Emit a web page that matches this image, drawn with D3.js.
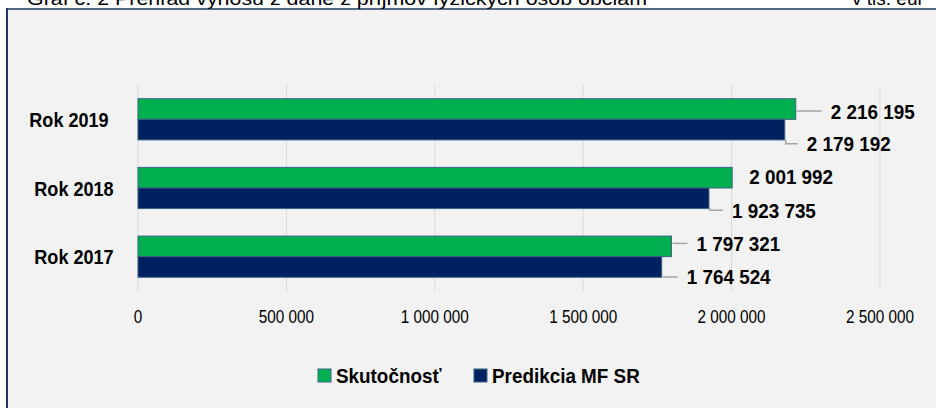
<!DOCTYPE html>
<meta charset="utf-8">
<style type="text/css">
    body { margin: 0; background: #fff; }
    svg { display: block; font-family: "Liberation Sans", Arial, sans-serif; }
    .grid line { stroke: #d9d9d9; stroke-width: 1; }
    .bar { stroke: #3b6482; stroke-width: 1; }
    .leader { fill: none; stroke: #a6a6a6; stroke-width: 1.5; }
    .val { font-weight: bold; font-size: 20.5px; fill: #000; }
    .cat { font-weight: bold; font-size: 21px; fill: #000; }
    .tick { font-size: 18px; fill: #000; }
    .legend text { font-weight: bold; font-size: 20.5px; fill: #000; }
</style>
<body>
</body>
<script src="https://cdn.jsdelivr.net/npm/d3@7"></script>
<script>

    // data
    var categories = ["Rok 2019", "Rok 2018", "Rok 2017"];
    var skutocnost = [2216195, 2001992, 1797321];
    var predikcia = [2179192, 1923735, 1764524];
    var tickValues = [0, 500000, 1000000, 1500000, 2000000, 2500000];
    var seriesNames = ["Skutočnosť", "Predikcia MF SR"];
    var seriesColors = ["#00b050", "#002060"];

    // where Excel had dragged the data labels (text start past bar end, shift from bar middle)
    var labelNudge = [
        [{dx: 35, dy: 2, leader: true}, {dx: 17, dy: -1, leader: false}, {dx: 25, dy: -3, leader: true}],
        [{dx: 22, dy: 14, leader: true}, {dx: 23, dy: 12, leader: true}, {dx: 25, dy: 10, leader: true}]
    ];

    var width = 936, height = 408;

    var svg = d3.select("body").append("svg")
        .attr("width", width)
        .attr("height", height);

    // the original text looks tall and narrow, so squeeze it a bit sideways
    function squeeze(sel, k) {
        sel.each(function() {
            var w = this.getComputedTextLength();
            d3.select(this).attr("textLength", w * k).attr("lengthAdjust", "spacingAndGlyphs");
        });
    }

    // panel background + the two visible border edges
    svg.append("rect")
        .attr("x", 7).attr("y", 9)
        .attr("width", width - 7).attr("height", height - 9)
        .attr("fill", "#f2f2f2");
    svg.append("line")
        .attr("x1", 7).attr("x2", 7).attr("y1", 8).attr("y2", height)
        .attr("stroke", "#1f3864").attr("stroke-width", 2);
    svg.append("line")
        .attr("x1", 6).attr("x2", width).attr("y1", 9).attr("y2", 9)
        .attr("stroke", "#1f3864").attr("stroke-width", 1.5);

    // title, cut off at the top of the picture as in the source
    svg.append("text")
        .attr("x", 27).attr("y", 5)
        .attr("font-size", 19)
        .attr("textLength", 620)
        .attr("lengthAdjust", "spacingAndGlyphs")
        .text("Graf č. 2 Prehľad výnosu z dane z príjmov fyzických osôb obciam");
    svg.append("text")
        .attr("x", 852).attr("y", 5)
        .attr("font-size", 19)
        .text("v tis. eur");

    var x = d3.scaleLinear()
        .domain([0, 2500000])
        .range([138, 880]);

    var y = d3.scaleBand()
        .domain(categories)
        .range([85, 291])
        .paddingInner(0.4)
        .paddingOuter(0.2);

    var ySub = d3.scaleBand()
        .domain([0, 1])
        .range([0, y.bandwidth()]);

    var fmt = function(v) { return d3.format(",")(v).replace(/,/g, " "); };

    // gridlines
    svg.append("g").attr("class", "grid")
        .selectAll("line")
        .data(tickValues)
        .enter().append("line")
        .attr("x1", function(d) { return x(d); })
        .attr("x2", function(d) { return x(d); })
        .attr("y1", 85).attr("y2", 291);

    // tick labels
    svg.append("g")
        .selectAll("text")
        .data(tickValues)
        .enter().append("text")
        .attr("class", "tick")
        .attr("x", function(d) { return x(d); })
        .attr("y", 323)
        .attr("text-anchor", "middle")
        .text(fmt)
        .call(squeeze, 0.85);

    // category labels
    svg.append("g")
        .selectAll("text")
        .data(categories)
        .enter().append("text")
        .attr("class", "cat")
        .attr("x", function(d, i) { return i == 0 ? 69 : 74; })
        .attr("y", function(d) { return y(d) + y.bandwidth() / 2; })
        .attr("text-anchor", "middle")
        .attr("dominant-baseline", "central")
        .text(function(d) { return d; })
        .call(squeeze, 0.86);

    var series = [skutocnost, predikcia];

    series.forEach(function(values, s) {
        var rows = values.map(function(v, i) { return {cat: categories[i], v: v, nudge: labelNudge[s][i]}; });
        var g = svg.append("g");

        g.selectAll("rect")
            .data(rows)
            .enter().append("rect")
            .attr("class", "bar")
            .attr("x", x(0))
            .attr("y", function(d) { return y(d.cat) + ySub(s); })
            .attr("width", function(d) { return x(d.v) - x(0); })
            .attr("height", ySub.bandwidth())
            .attr("fill", seriesColors[s]);

        // leader lines
        g.selectAll("path")
            .data(rows.filter(function(d) { return d.nudge.leader; }))
            .enter().append("path")
            .attr("class", "leader")
            .attr("d", function(d) {
                var top = y(d.cat) + ySub(s), bot = top + ySub.bandwidth();
                var ty = top + ySub.bandwidth() / 2 + d.nudge.dy;
                var ay = Math.max(top, Math.min(bot, ty));
                var ex = x(d.v) + 1;
                return "M" + ex + "," + ay + "L" + ex + "," + ty + "L" + (x(d.v) + d.nudge.dx - 9) + "," + ty;
            });

        g.selectAll("text")
            .data(rows)
            .enter().append("text")
            .attr("class", "val")
            .attr("x", function(d) { return x(d.v) + d.nudge.dx; })
            .attr("y", function(d) { return y(d.cat) + ySub(s) + ySub.bandwidth() / 2 + d.nudge.dy; })
            .attr("dominant-baseline", "central")
            .text(function(d) { return fmt(d.v); })
            .call(squeeze, 0.92);
    });

    // legend
    var legendX = [318, 474];
    var legend = svg.append("g").attr("class", "legend");
    seriesNames.forEach(function(name, i) {
        legend.append("rect")
            .attr("x", legendX[i]).attr("y", 369)
            .attr("width", 13).attr("height", 13)
            .attr("fill", seriesColors[i])
            .attr("stroke", "#3b6482");
        legend.append("text")
            .attr("x", legendX[i] + 18).attr("y", 375.5)
            .attr("dominant-baseline", "central")
            .text(name)
            .call(squeeze, 0.92);
    });

</script>
